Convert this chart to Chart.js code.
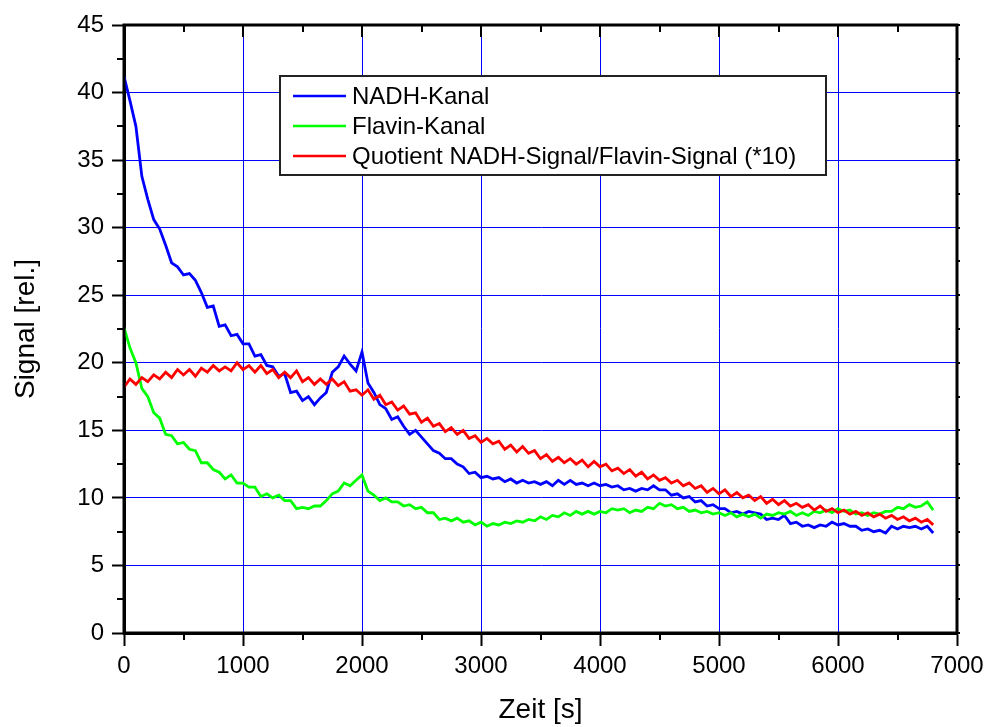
<!DOCTYPE html>
<html>
<head>
<meta charset="utf-8">
<script src="https://cdn.jsdelivr.net/npm/chart.js@4.4.1/dist/chart.umd.min.js"></script>
<style>
  html,body{margin:0;padding:0;background:#fff;}
  #wrap{width:985px;height:727px;}
</style>
</head>
<body>
<div id="wrap"><canvas id="c" width="985" height="727"></canvas></div>
<script>
// time in s, one sample every 50 s
const TIME = [
  0,50,100,150,200,250,300,350,400,450,500,550,600,650,700,750,800,850,900,950,
  1000,1050,1100,1150,1200,1250,1300,1350,1400,1450,1500,1550,1600,1650,1700,1750,1800,1850,1900,1950,
  2000,2050,2100,2150,2200,2250,2300,2350,2400,2450,2500,2550,2600,2650,2700,2750,2800,2850,2900,2950,
  3000,3050,3100,3150,3200,3250,3300,3350,3400,3450,3500,3550,3600,3650,3700,3750,3800,3850,3900,3950,
  4000,4050,4100,4150,4200,4250,4300,4350,4400,4450,4500,4550,4600,4650,4700,4750,4800,4850,4900,4950,
  5000,5050,5100,5150,5200,5250,5300,5350,5400,5450,5500,5550,5600,5650,5700,5750,5800,5850,5900,5950,
  6000,6050,6100,6150,6200,6250,6300,6350,6400,6450,6500,6550,6600,6650,6700,6750,6800
];

const NADH = [
  41.2,39.4,37.5,33.8,32.1,30.6,29.9,28.7,27.4,27.1,26.5,26.6,26.1,25.2,24.1,24.2,22.7,22.8,22.0,22.1,
  21.4,21.4,20.5,20.6,19.8,19.7,19.0,19.2,17.8,17.9,17.2,17.5,16.9,17.4,17.8,19.3,19.7,20.5,19.9,19.4,
  20.8,18.5,17.8,16.9,16.6,15.8,16.0,15.3,14.7,15.0,14.5,14.0,13.5,13.3,12.9,12.9,12.5,12.3,11.8,11.9,
  11.5,11.6,11.4,11.5,11.2,11.4,11.1,11.3,11.1,11.2,11.0,11.2,10.9,11.3,11.0,11.3,11.0,11.1,10.9,11.1,
  10.9,11.0,10.8,10.9,10.6,10.7,10.5,10.7,10.6,10.9,10.6,10.6,10.2,10.3,10.0,10.1,9.7,9.8,9.4,9.5,
  9.2,9.2,8.9,9.0,8.8,9.0,8.9,8.8,8.4,8.5,8.4,8.7,8.1,8.2,7.9,8.0,7.8,8.0,7.9,8.2,
  8.0,8.1,7.9,7.9,7.6,7.7,7.5,7.6,7.4,7.9,7.7,7.9,7.8,7.9,7.7,7.9,7.4
];

const FLAVIN = [
  22.6,21.1,20.0,18.1,17.5,16.3,15.9,14.7,14.6,14.0,14.1,13.6,13.5,12.6,12.6,12.1,11.9,11.4,11.7,11.1,
  11.1,10.8,10.8,10.1,10.3,10.0,10.2,9.8,9.8,9.2,9.3,9.2,9.4,9.4,9.8,10.3,10.5,11.1,10.9,11.3,
  11.7,10.5,10.2,9.8,10.0,9.7,9.7,9.4,9.5,9.2,9.3,8.9,8.9,8.4,8.5,8.3,8.5,8.2,8.3,8.0,
  8.2,7.9,8.1,8.0,8.2,8.1,8.3,8.2,8.4,8.3,8.6,8.4,8.7,8.6,8.9,8.7,9.0,8.8,9.0,8.8,
  9.0,8.9,9.2,9.1,9.2,8.9,9.1,9.0,9.3,9.2,9.6,9.4,9.5,9.2,9.3,9.0,9.1,8.9,9.0,8.8,
  8.9,8.7,8.9,8.6,8.8,8.6,8.8,8.5,8.8,8.7,8.9,8.8,9.0,8.7,8.9,8.7,9.0,8.9,9.1,8.9,
  9.2,9.0,9.1,8.8,8.9,8.7,8.9,8.8,9.0,9.0,9.3,9.2,9.5,9.3,9.4,9.7,9.1
];

const QUOTIENT = [
  18.2,18.8,18.4,18.9,18.6,19.1,18.8,19.3,18.9,19.5,19.1,19.5,19.0,19.6,19.3,19.8,19.4,19.7,19.4,20.0,
  19.5,19.8,19.3,19.8,19.2,19.5,18.9,19.3,18.9,19.4,18.6,18.9,18.4,18.8,18.4,18.8,18.3,18.6,17.9,18.0,
  17.6,18.0,17.3,17.6,16.9,17.1,16.5,16.8,16.2,16.3,15.6,15.9,15.3,15.5,14.9,15.2,14.7,15.0,14.4,14.6,
  14.1,14.4,14.0,14.2,13.6,13.9,13.4,13.8,13.3,13.5,12.9,13.2,12.7,13.0,12.6,12.9,12.5,12.8,12.3,12.7,
  12.3,12.5,12.0,12.2,11.8,12.1,11.6,11.9,11.4,11.7,11.3,11.5,11.1,11.3,10.9,11.1,10.7,10.9,10.4,10.7,
  10.3,10.6,10.1,10.4,10.0,10.2,9.8,10.1,9.6,9.9,9.5,9.8,9.4,9.6,9.3,9.5,9.1,9.4,9.0,9.2,
  8.9,9.1,8.8,9.0,8.7,8.9,8.6,8.8,8.5,8.7,8.4,8.6,8.3,8.5,8.2,8.4,8.0
];

const X_TICKS = [0, 1000, 2000, 3000, 4000, 5000, 6000, 7000];
const Y_TICKS = [0, 5, 10, 15, 20, 25, 30, 35, 40, 45];
const LEGEND = ['NADH-Kanal', 'Flavin-Kanal', 'Quotient NADH-Signal/Flavin-Signal (*10)'];
const COLORS = ['#0000ff', '#00ff00', '#ff0000'];

const FONT = "'Liberation Sans', Arial, sans-serif";
const pts = (ys) => TIME.map((t, i) => ({x: t, y: ys[i]}));

// frame on top/right, inner ticks on top, minor ticks, legend box
const frame = {
  id: 'frame',
  afterDraw(chart) {
    const {ctx, chartArea: a, scales: {x, y}} = chart;
    ctx.save();
    ctx.strokeStyle = '#000';
    ctx.lineWidth = 2;
    ctx.beginPath();
    for (let v = 0; v <= 7000; v += 500) {
      const px = Math.round(x.getPixelForValue(v));
      const major = v % 1000 === 0;
      if (!major) { ctx.moveTo(px, a.bottom); ctx.lineTo(px, a.bottom + 7); }
      ctx.moveTo(px, a.top); ctx.lineTo(px, a.top + (major ? 12 : 7));
    }
    for (let v = 0; v <= 45; v += 2.5) {
      const py = Math.round(y.getPixelForValue(v));
      if (v % 5 !== 0) { ctx.moveTo(a.left, py); ctx.lineTo(a.left - 7, py); }
      ctx.moveTo(a.right, py); ctx.lineTo(a.right + 3, py);
    }
    ctx.stroke();
    ctx.lineWidth = 3;
    ctx.strokeRect(a.left, a.top, a.right - a.left, a.bottom - a.top);

    // legend
    const bx = a.left + 156, by = a.top + 51, bw = 546, bh = 99;
    ctx.fillStyle = '#fff';
    ctx.fillRect(bx, by, bw, bh);
    ctx.lineWidth = 2;
    ctx.strokeStyle = '#222';
    ctx.strokeRect(bx, by, bw, bh);
    ctx.font = '24px ' + FONT;
    ctx.textBaseline = 'middle';
    ctx.textAlign = 'left';
    LEGEND.forEach((lab, i) => {
      const ly = by + 20 + i * 30;
      ctx.strokeStyle = COLORS[i];
      ctx.lineWidth = 2.5;
      ctx.beginPath(); ctx.moveTo(bx + 13, ly); ctx.lineTo(bx + 66, ly); ctx.stroke();
      ctx.fillStyle = '#000';
      ctx.fillText(lab, bx + 72, ly + 1);
    });
    ctx.restore();
  }
};

new Chart(document.getElementById('c'), {
  type: 'line',
  data: {
    datasets: [
      {label: LEGEND[0], data: pts(NADH), borderColor: COLORS[0], order: 3},
      {label: LEGEND[1], data: pts(FLAVIN), borderColor: COLORS[1], order: 2},
      {label: LEGEND[2], data: pts(QUOTIENT), borderColor: COLORS[2], order: 1}
    ]
  },
  options: {
    responsive: false,
    animation: false,
    devicePixelRatio: 1,
    layout: {padding: {top: 25, right: 28, left: 0, bottom: 0}},
    elements: {
      line: {borderWidth: 2.8, tension: 0, fill: false},
      point: {radius: 0}
    },
    plugins: {legend: {display: false}, tooltip: {enabled: false}},
    scales: {
      x: {
        type: 'linear', min: 0, max: 7000,
        afterBuildTicks: (s) => { s.ticks = X_TICKS.map(v => ({value: v})); },
        afterFit: (s) => { s.height = 94; s.paddingLeft = 0; s.paddingRight = 0; },
        grid: {color: () => '#0000ff', lineWidth: 1, tickColor: '#000', tickLength: 13, tickWidth: 2},
        border: {color: '#000', width: 3},
        ticks: {color: '#000', font: {family: FONT, size: 24}, padding: 6, maxRotation: 0, callback: (v) => String(v)},
        title: {display: true, text: 'Zeit [s]', color: '#000', font: {family: FONT, size: 28, lineHeight: 1.2}, padding: {top: 0, bottom: 0}}
      },
      y: {
        min: 0, max: 45,
        afterBuildTicks: (s) => { s.ticks = Y_TICKS.map(v => ({value: v})); },
        afterFit: (s) => { s.width = 124; },
        grid: {color: () => '#0000ff', lineWidth: 1, tickColor: '#000', tickLength: 12, tickWidth: 2},
        border: {color: '#000', width: 3},
        ticks: {color: '#000', font: {family: FONT, size: 24}, padding: 8, callback: (v) => String(v)},
        title: {display: true, text: 'Signal [rel.]', color: '#000', font: {family: FONT, size: 28, lineHeight: 1.2}, padding: {top: 9, bottom: 0}}
      }
    }
  },
  plugins: [frame]
});
</script>
</body>
</html>
